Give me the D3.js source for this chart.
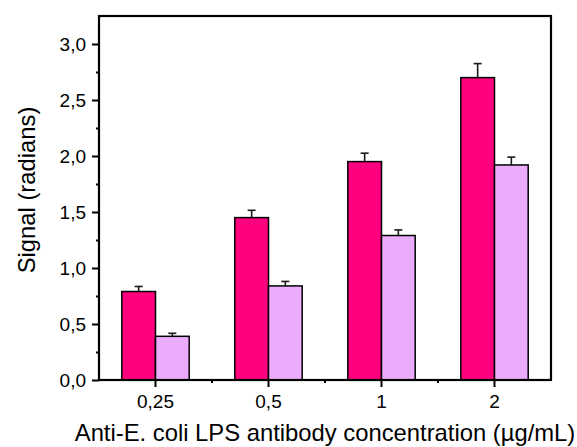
<!DOCTYPE html>
<html><head><meta charset="utf-8">
<script src="https://cdn.jsdelivr.net/npm/d3@7"></script>
<style>body{margin:0;background:#fff}svg{display:block}text{font-family:"Liberation Sans",Arial,sans-serif;fill:#000}.tk text{font-size:19px}</style>
</head><body><svg id="c" width="577" height="447"></svg>
<script>
const categories = ["0,25", "0,5", "1", "2"];
const seriesNames = ["A", "B"];
const seriesA = [0.79, 1.45, 1.95, 2.70];
const seriesAErr = [0.045, 0.065, 0.075, 0.125];
const seriesB = [0.39, 0.84, 1.29, 1.92];
const seriesBErr = [0.027, 0.04, 0.05, 0.07];
const yTicks = [0, 0.5, 1, 1.5, 2, 2.5, 3];
const yMinor = [0.25, 0.75, 1.25, 1.75, 2.25, 2.75];
const colors = ["#FF007F", "#EBADFB"];

const svg = d3.select("#c");
const L = 99, R = 551, T = 16, B = 380;
const x = d3.scaleBand().domain(categories).range([L, R]).padding(0);
const xs = d3.scaleBand().domain(seriesNames).range([0, x.bandwidth()]).paddingInner(0).paddingOuter(0.677);
const y = d3.scaleLinear().domain([0, 3.25]).range([B, T]);

const data = [];
categories.forEach((c, i) => {
  data.push({c, s: "A", v: seriesA[i], e: seriesAErr[i], col: colors[0]});
  data.push({c, s: "B", v: seriesB[i], e: seriesBErr[i], col: colors[1]});
});

// error bars
const eb = svg.append("g").attr("stroke", "#1a1a1a").attr("stroke-width", 1.6);
data.forEach(d => {
  const cx = x(d.c) + xs(d.s) + xs.bandwidth() / 2;
  eb.append("line").attr("x1", cx).attr("x2", cx).attr("y1", y(d.v)).attr("y2", y(d.v + d.e));
  eb.append("line").attr("x1", cx - 4).attr("x2", cx + 4).attr("y1", y(d.v + d.e)).attr("y2", y(d.v + d.e));
});

// bars
svg.append("g").selectAll("rect").data(data).join("rect")
  .attr("x", d => x(d.c) + xs(d.s))
  .attr("y", d => y(d.v))
  .attr("width", xs.bandwidth())
  .attr("height", d => y(0) - y(d.v))
  .attr("fill", d => d.col)
  .attr("stroke", "#000").attr("stroke-width", 1.5);

// frame
svg.append("rect").attr("x", L).attr("y", T).attr("width", R - L).attr("height", B - T)
  .attr("fill", "none").attr("stroke", "#000").attr("stroke-width", 2.2);

// y axis
const yAxis = svg.append("g").attr("class", "tk").attr("transform", `translate(${L},0)`)
  .call(d3.axisLeft(y).tickValues(yTicks).tickSize(7).tickPadding(6)
    .tickFormat(d => d3.format(".1f")(d).replace(".", ",")));
yAxis.attr("font-size", 19).attr("font-family", null);
yAxis.select(".domain").remove();
yAxis.selectAll("line").attr("stroke-width", 2);
yAxis.selectAll("text").attr("fill", "#000").attr("dy", "0.35em");
const yMin = svg.append("g").attr("transform", `translate(${L},0)`)
  .call(d3.axisLeft(y).tickValues(yMinor).tickSize(3).tickFormat(""));
yMin.select(".domain").remove();
yMin.selectAll("line").attr("stroke-width", 2);

// x axis
const xAxis = svg.append("g").attr("class", "tk").attr("transform", `translate(0,${B})`)
  .call(d3.axisBottom(x).tickSize(7).tickPadding(8));
xAxis.attr("font-size", 19).attr("font-family", null);
xAxis.select(".domain").remove();
xAxis.selectAll("line").attr("stroke-width", 2);
xAxis.selectAll("text").attr("fill", "#000");
const minorX = categories.slice(1).map(c => x(c));
svg.append("g").selectAll("line").data(minorX).join("line")
  .attr("x1", d => d).attr("x2", d => d).attr("y1", B).attr("y2", B + 3)
  .attr("stroke", "#000").attr("stroke-width", 2);

// titles
svg.append("text").attr("x", (L + R) / 2).attr("y", 441).attr("text-anchor", "middle")
  .style("font-size", "23.8px").text("Anti-E. coli LPS antibody concentration (µg/mL)");
svg.append("text").attr("transform", `translate(35,190) rotate(-90)`).attr("text-anchor", "middle")
  .style("font-size", "23.8px").text("Signal (radians)");
</script></body></html>
